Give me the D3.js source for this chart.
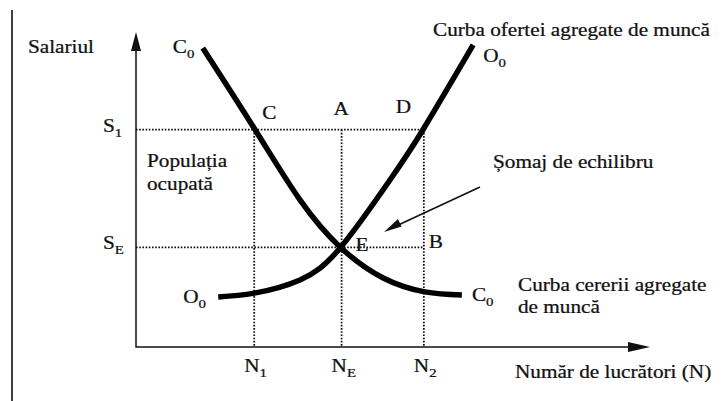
<!DOCTYPE html>
<html>
<head>
<meta charset="utf-8">
<script src="https://cdn.jsdelivr.net/npm/d3@7"></script>
<style>
  body { margin: 0; background: #fff; }
  text { font-family: "Liberation Serif", "DejaVu Serif", serif; fill: #111; stroke: #111; stroke-width: 0.25; }
</style>
</head>
<body>
<div id="chart"></div>
<script>
// number of workers (N) and wage levels (S), in arbitrary units 0..100
const nLabels = [["N", "1"], ["N", "E"], ["N", "2"]];
const nValues = [23, 40, 56];
const sLabels = [["S", "1"], ["S", "E"]];
const sValues = [69, 31.6];

// aggregate labour demand C0 (falls) and supply O0 (rises)
const demandN = [13, 23.2, 31.9, 39.8, 48.1, 56.2, 63.4];
const demandS = [94.9, 68.9, 46.7, 31.6, 21.9, 17.5, 16.5];
const supplyN = [16, 23, 31.9, 39.8, 49.4, 55.8, 65.6];
const supplyS = [15.9, 17.1, 21.3, 31.6, 53.0, 68.9, 95.9];

var w = 721,
	h = 401,
	fx = 1.18; // the scan is a bit wider than the type

const svg = d3.select("#chart")
  .append("svg")
  .attr("width", w)
  .attr("height", h);

const x = d3.scaleLinear().domain([0, 100]).range([136, 650]);
const y = d3.scaleLinear().domain([0, 100]).range([347, 32]);

// left page border of the scan
svg.append("line")
   .attr("x1", 12).attr("x2", 12)
   .attr("y1", 10).attr("y2", h)
   .attr("stroke", "#111").attr("stroke-width", 1.6);

// axes
svg.append("path")
   .attr("d", `M${x(0)},${y(95)}V${y(0)}H${x(96)}`)
   .attr("fill", "none").attr("stroke", "#111").attr("stroke-width", 1.5);
svg.append("path")
   .attr("d", `M${x(0)},${y(100)}l-5,19h10z`)
   .attr("fill", "#111");
svg.append("path")
   .attr("d", `M${x(100)},${y(0)}l-22,-5v10z`)
   .attr("fill", "#111");

// dotted guide lines
const dots = svg.append("g")
  .attr("stroke", "#111")
  .attr("stroke-width", 1.8)
  .attr("stroke-dasharray", "1.6,1.6")
  .attr("fill", "none");

dots.selectAll("line.h")
  .data(sValues)
  .enter()
  .append("line")
  .attr("x1", x(0)).attr("x2", x(nValues[2]))
  .attr("y1", (d) => y(d)).attr("y2", (d) => y(d));

dots.selectAll("line.v")
  .data(nValues)
  .enter()
  .append("line")
  .attr("x1", (d) => x(d)).attr("x2", (d) => x(d))
  .attr("y1", y(sValues[0])).attr("y2", y(0));

// curves
const line = d3.line()
  .x((d) => x(d[0]))
  .y((d) => y(d[1]))
  .curve(d3.curveNatural);

svg.append("path")
   .attr("d", line(d3.zip(demandN, demandS)))
   .attr("fill", "none").attr("stroke", "#000").attr("stroke-width", 5.5);

svg.append("path")
   .attr("d", line(d3.zip(supplyN, supplyS)))
   .attr("fill", "none").attr("stroke", "#000").attr("stroke-width", 5.5);

// text helper: optional subscript, stretched horizontally like the scan
function label(px, py, main, sub, size) {
	size = size || 18;
	const t = svg.append("g")
	  .attr("transform", `translate(${px},${py}) scale(${fx},1)`)
	  .append("text")
	  .attr("font-size", size);
	t.append("tspan").text(main);
	if (sub) {
		t.append("tspan")
		 .attr("font-size", size * 0.7)
		 .attr("dy", 5)
		 .text(sub);
	}
	return t;
}

// axis labels
label(28, 53, "Salariul");
label(515, 378, "Număr de lucrători (N)");

nLabels.forEach((l, i) => {
	label(x(nValues[i]) - 10, 372, l[0], l[1]);
});
sLabels.forEach((l, i) => {
	label(x(0) - 33, y(sValues[i]) + 2, l[0], l[1]);
});

// points
label(x(nValues[0]) + 8, y(sValues[0]) - 11, "C");
label(x(nValues[1]) - 8, y(sValues[0]) - 15, "A");
label(x(nValues[2]) - 28, y(sValues[0]) - 17, "D");
label(x(nValues[1]) + 14, y(sValues[1]) + 4, "E");
label(x(nValues[2]) + 5, y(sValues[1]) + 1, "B");

// curve ends
const last = demandN.length - 1;
label(x(demandN[0]) - 30, y(demandS[0]) + 5, "C", "0");
label(x(demandN[last]) + 10, y(demandS[last]) + 6, "C", "0");
label(x(supplyN[0]) - 35, y(supplyS[0]) + 6, "O", "0");
label(x(supplyN[last]) + 10, y(supplyS[last]) + 17, "O", "0");

// annotations
label(433, 36, "Curba ofertei agregate de muncă");
label(518, 291, "Curba cererii agregate");
label(518, 313, "de muncă");
label(147, 167, "Populația");
label(147, 190, "ocupată");
label(493, 168, "Șomaj de echilibru");

// arrow to the unemployment gap
svg.append("line")
   .attr("x1", 480).attr("y1", 187)
   .attr("x2", 394).attr("y2", 227)
   .attr("stroke", "#111").attr("stroke-width", 1.6);
svg.append("path")
   .attr("d", "M384,232l14,-13l3.5,7.5z")
   .attr("fill", "#111");
</script>
</body>
</html>
